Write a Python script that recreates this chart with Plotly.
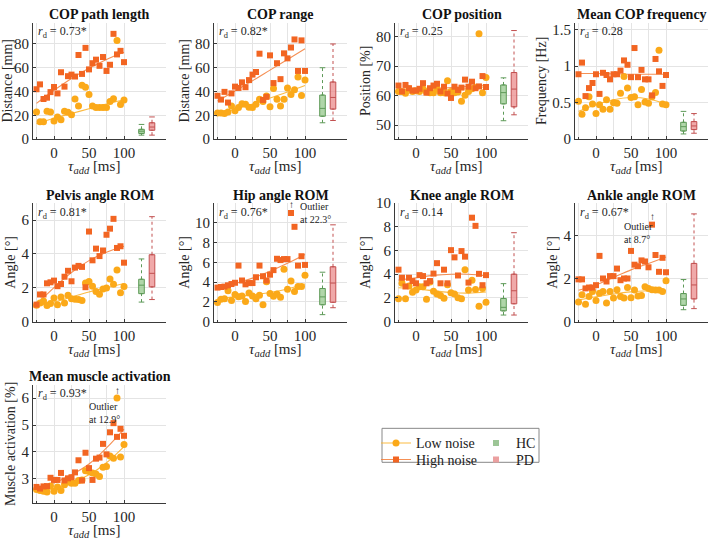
import plotly.graph_objects as go

# ---------------- data ----------------
TAU = [-25, -20, -15, -10, -5, 0, 5, 10, 15, 20, 25, 30, 35, 40, 45, 50, 55, 60, 65, 70, 75, 80, 85, 90, 95, 100]
FIT_TAU = [-25, 0, 25, 50, 75, 100]
BOX_POS = [125, 140]  # HC, PD

titles = ["COP path length", "COP range", "COP position", "Mean COP frequency",
          "Pelvis angle ROM", "Hip angle ROM", "Knee angle ROM", "Ankle angle ROM",
          "Mean muscle activation"]
ytitles = ["Distance [mm]", "Distance [mm]", "Position [%]", "Frequency [Hz]",
           "Angle [°]", "Angle [°]", "Angle [°]", "Angle [°]", "Muscle activation [%]"]
xtitle = "<i>τ<sub>add</sub></i> [ms]"
rd_labels = ["0.73*", "0.82*", "0.25", "0.28", "0.81*", "0.76*", "0.14", "0.67*", "0.93*"]

# COP path length
path_high = [41.9, 46.0, 33.7, 34.8, 39.5, 43.8, 38.4, 56.2, 44.1, 52.9, 54.2, 52.6, 70.7, 54.8, 76.7, 58.6, 63.8, 66.8, 61.6, 69.0, 57.3, 62.5, 88.5, 71.2, 74.2, 64.7]
path_low = [22.7, 14.5, 14.5, 23.3, 22.7, 15.1, 18.6, 16.2, 23.3, 22.5, 20.5, 33.7, 27.7, 45.2, 43.6, 37.5, 27.9, 26.6, 26.6, 26.6, 26.6, 31.5, 34.0, 83.0, 29.0, 32.9]
path_fit_high = [30, 41, 51, 59.5, 67, 73]
path_fit_low = [13, 17.5, 21.5, 25.5, 29.5, 33]
path_hc = [3.3, 4.7, 6.6, 8.2, 12.3]
path_pd = [3.3, 7.4, 10.1, 13.7, 18.6]

# COP range
range_high = [36.4, 33.2, 39.7, 30.7, 38.4, 44.1, 43.0, 47.7, 43.6, 49.6, 54.2, 56.4, 71.8, 32.9, 35.5, 70.4, 47.1, 63.8, 50.4, 72.1, 67.9, 77.0, 83.8, 57.3, 83.0, 57.3]
range_low = [21.9, 21.9, 21.4, 22.7, 27.9, 23.8, 26.6, 29.6, 29.3, 26.8, 26.6, 29.3, 33.4, 31.5, 36.2, 27.1, 42.5, 33.4, 27.9, 33.4, 43.0, 37.5, 41.4, 52.1, 36.7, 49.6]
range_fit_high = [32, 40.5, 49, 58, 67, 76]
range_fit_low = [21, 25, 29.5, 34.5, 39.5, 45]
range_hc = [13.7, 19.2, 25.8, 37.0, 60.0]
range_pd = [15.6, 25.2, 35.0, 48.0, 80.0]

# COP position
pos_high = [63.4, 61.4, 63.6, 62.5, 61.7, 61.7, 62.3, 64.2, 61.0, 62.5, 63.4, 64.0, 61.4, 63.0, 60.7, 59.2, 63.0, 61.9, 62.7, 65.4, 63.0, 64.7, 62.5, 63.1, 66.6, 62.9]
pos_low = [61.4, 61.4, 60.8, 62.3, 61.4, 61.6, 61.4, 62.3, 61.2, 61.0, 61.0, 62.3, 61.0, 61.0, 65.0, 61.4, 61.0, 61.2, 58.1, 60.1, 61.4, 62.3, 62.8, 80.9, 61.0, 66.1]
pos_fit_high = [62.0, 62.2, 62.4, 62.7, 63.1, 63.6]
pos_fit_low = [61.5, 61.6, 61.8, 62.0, 62.4, 63.0]
pos_hc = [51.5, 57.2, 61.0, 63.6, 66.0]
pos_pd = [53.5, 56.2, 62.2, 67.8, 82.0]

# Mean COP frequency
freq_high = [0.89, 1.05, 0.59, 0.70, 0.77, 0.89, 0.62, 0.91, 0.88, 0.82, 0.89, 0.89, 0.94, 1.08, 1.02, 0.85, 1.25, 0.85, 0.95, 0.82, 0.82, 0.60, 1.10, 0.93, 0.73, 0.88]
freq_low = [0.52, 0.34, 0.43, 0.58, 0.48, 0.35, 0.47, 0.41, 0.54, 0.41, 0.50, 0.49, 0.63, 0.86, 0.70, 0.57, 0.58, 0.47, 0.68, 0.51, 0.49, 0.58, 0.64, 1.22, 0.48, 0.47]
freq_fit_high = [0.90, 0.90, 0.895, 0.89, 0.89, 0.89]
freq_fit_low = [0.38, 0.47, 0.54, 0.57, 0.55, 0.48]
freq_hc = [0.07, 0.11, 0.17, 0.23, 0.38]
freq_pd = [0.08, 0.13, 0.18, 0.24, 0.35]

# Pelvis angle ROM
pelvis_high = [1.0, 1.6, 1.6, 2.26, 2.32, 2.42, 2.09, 2.22, 2.65, 3.0, 2.38, 3.19, 3.29, 3.23, 2.03, 5.32, 3.62, 4.31, 3.87, 4.2, 5.13, 5.49, 6.07, 4.35, 4.45, 3.48]
pelvis_low = [0.97, 1.10, 1.22, 0.95, 1.06, 1.39, 1.0, 1.45, 1.10, 1.55, 1.35, 1.32, 1.30, 1.24, 2.28, 2.36, 2.09, 1.78, 1.61, 1.93, 1.99, 2.51, 2.20, 3.04, 1.70, 2.07]
pelvis_fit_high = [1.0, 2.0, 2.9, 3.6, 4.1, 4.45]
pelvis_fit_low = [0.9, 1.15, 1.45, 1.75, 2.0, 2.25]
pelvis_hc = [1.15, 1.65, 2.15, 2.5, 3.7]
pelvis_pd = [1.3, 2.05, 2.85, 3.95, 6.2]

# Hip angle ROM
hip_high = [3.44, 3.5, 3.54, 3.67, 3.8, 3.93, 5.67, 4.16, 3.77, 3.9, 3.9, 4.49, 5.67, 4.59, 4.16, 4.75, 5.21, 6.36, 6.23, 6.33, 6.33, 11.0, 9.6, 5.67, 6.62, 5.74]
hip_low = [1.93, 2.26, 2.3, 3.11, 2.13, 2.75, 2.52, 2.59, 2.03, 2.89, 2.59, 2.3, 2.66, 1.70, 4.03, 2.85, 2.56, 2.79, 2.46, 5.31, 3.28, 4.1, 3.05, 3.54, 3.54, 4.69]
hip_fit_high = [3.4, 3.85, 4.4, 5.1, 5.9, 6.8]
hip_fit_low = [2.35, 2.5, 2.7, 2.95, 3.3, 3.8]
hip_hc = [0.7, 1.7, 2.5, 3.35, 5.0]
hip_pd = [1.4, 1.95, 3.9, 5.55, 9.8]

# Knee angle ROM
knee_high = [4.38, 3.7, 2.96, 3.7, 3.42, 3.23, 3.92, 3.84, 3.23, 3.42, 4.05, 4.93, 3.23, 4.38, 3.23, 6.03, 5.42, 3.89, 5.95, 5.48, 3.29, 8.77, 8.08, 4.03, 3.07, 3.92]
knee_low = [1.92, 3.23, 1.92, 3.01, 2.47, 2.66, 2.93, 2.93, 1.89, 3.34, 2.55, 2.33, 2.19, 1.97, 3.10, 2.44, 2.33, 2.0, 1.92, 4.38, 2.66, 3.48, 2.7, 1.29, 2.79, 1.64]
knee_fit_high = [3.5, 3.7, 3.9, 4.0, 4.0, 3.85]
knee_fit_low = [2.85, 2.75, 2.6, 2.45, 2.4, 2.5]
knee_hc = [0.55, 0.9, 1.2, 1.95, 3.2]
knee_pd = [0.55, 1.5, 2.6, 4.0, 7.5]

# Ankle angle ROM
ankle_high = [1.96, 1.96, 1.54, 1.58, 1.58, 1.69, 3.05, 2.0, 1.86, 2.11, 2.11, 2.46, 1.92, 2.0, 2.0, 3.28, 2.64, 2.57, 2.84, 2.79, 2.52, 4.5, 3.09, 2.31, 2.96, 2.29]
ankle_low = [0.91, 1.25, 0.8, 1.16, 1.40, 0.98, 1.31, 1.40, 0.86, 1.40, 1.09, 1.48, 1.16, 1.09, 1.58, 1.10, 1.46, 1.19, 1.21, 1.62, 1.54, 1.48, 1.46, 1.46, 1.40, 1.89]
ankle_fit_high = [1.45, 1.7, 2.05, 2.4, 2.7, 3.0]
ankle_fit_low = [1.0, 1.15, 1.28, 1.38, 1.43, 1.45]
ankle_hc = [0.55, 0.75, 1.05, 1.3, 1.95]
ankle_pd = [0.6, 1.05, 1.7, 2.7, 5.0]

# Mean muscle activation
muscle_high = [2.70, 2.64, 2.72, 2.73, 3.04, 2.96, 2.96, 3.22, 2.94, 3.02, 3.06, 3.24, 3.69, 2.94, 3.97, 3.40, 2.96, 3.75, 3.79, 4.30, 3.91, 4.73, 5.07, 4.56, 4.86, 4.60]
muscle_low = [2.60, 2.57, 2.54, 2.51, 2.73, 2.54, 2.70, 2.57, 2.78, 2.88, 2.84, 2.84, 2.94, 2.96, 3.30, 3.27, 3.22, 3.18, 3.09, 3.43, 3.46, 3.85, 3.77, 6.0, 3.81, 4.28]
muscle_fit_high = [2.65, 2.85, 3.15, 3.55, 4.15, 4.85]
muscle_fit_low = [2.55, 2.65, 2.85, 3.15, 3.6, 4.2]

y_ranges = [[0, 98], [0, 98], [45.3, 84.7], [0, 1.6], [0, 7], [0, 12], [0, 10], [0, 5.5], [2.1, 6.5]]
y_ticks = [[0, 20, 40, 60, 80], [0, 20, 40, 60, 80], [50, 60, 70, 80], [0, 0.5, 1, 1.5],
           [0, 2, 4, 6], [0, 2, 4, 6, 8, 10], [0, 2, 4, 6, 8, 10], [0, 2, 4], [3, 4, 5, 6]]
y_ticktext = [None, None, None, ["0", "0.5", "1", "1.5"], None, None, None, None, None]
x_ticks = [0, 50, 100]
x_minor = [-25, 25, 75]

high_series = [path_high, range_high, pos_high, freq_high, pelvis_high, hip_high, knee_high, ankle_high, muscle_high]
low_series = [path_low, range_low, pos_low, freq_low, pelvis_low, hip_low, knee_low, ankle_low, muscle_low]
fit_high = [path_fit_high, range_fit_high, pos_fit_high, freq_fit_high, pelvis_fit_high, hip_fit_high, knee_fit_high, ankle_fit_high, muscle_fit_high]
fit_low = [path_fit_low, range_fit_low, pos_fit_low, freq_fit_low, pelvis_fit_low, hip_fit_low, knee_fit_low, ankle_fit_low, muscle_fit_low]
hc_boxes = [path_hc, range_hc, pos_hc, freq_hc, pelvis_hc, hip_hc, knee_hc, ankle_hc, None]
pd_boxes = [path_pd, range_pd, pos_pd, freq_pd, pelvis_pd, hip_pd, knee_pd, ankle_pd, None]

# outliers: (panel, x, series, note)
outliers = [(5, 80, "high", "Outlier<br>at 22.3°"), (7, 80, "high", "Outlier<br>at 8.7°"),
            (8, 90, "low", "Outlier<br>at 12.9°")]

legend_names = ["Low noise", "High noise", "HC", "PD"]

# ---------------- styling / layout ----------------
W, H = 708, 547
COL_LEFT = [33, 214, 395, 575]
AX_W = 133
ROW_TOP = [15, 201, 388]
ROW_BOT = [135, 323, 510]
X_RANGE = [-30, 160]
FONT = "Liberation Serif"

C_HIGH = "#F26522"
C_LOW = "#FBA919"
C_HIGH_LINE = "rgba(243,125,55,0.85)"
C_LOW_LINE = "rgba(251,178,45,0.9)"
HC_FILL, HC_LINE, HC_MED = "rgba(150,200,140,0.75)", "#5E9A58", "#2F6A2B"
PD_FILL, PD_LINE, PD_MED = "rgba(235,140,140,0.75)", "#C25050", "#9A2020"
GRID = "#E4E4E4"
AXC = "#3a3a3a"


def px_x(p):
    return p / W


def px_y(p):
    return 1 - p / H


fig = go.Figure()
layout = dict(width=W, height=H, margin=dict(l=0, r=0, t=0, b=0),
              plot_bgcolor="white", paper_bgcolor="white",
              font=dict(family=FONT, size=14, color="#262626"),
              showlegend=True)
annotations = []

for i in range(9):
    r, c = divmod(i, 4)
    n = "" if i == 0 else str(i + 1)
    xa, ya = "x" + n, "y" + n
    left = COL_LEFT[c]
    top, bot = ROW_TOP[r], ROW_BOT[r]

    layout["xaxis" + n] = dict(
        domain=[px_x(left), min(1.0, px_x(left + AX_W))], range=X_RANGE, anchor=ya,
        tickmode="array", tickvals=x_ticks, showgrid=True, gridcolor=GRID, gridwidth=1,
        minor=dict(tickmode="array", tickvals=x_minor, showgrid=True, gridcolor=GRID,
                   ticks="inside", ticklen=2, tickcolor=AXC),
        zeroline=False, showline=True, linecolor=AXC, linewidth=1,
        ticks="inside", ticklen=3, tickcolor=AXC, tickfont=dict(size=15, family=FONT),
    )
    ydict = dict(
        domain=[px_y(bot), px_y(top)], range=y_ranges[i], anchor=xa,
        tickmode="array", tickvals=y_ticks[i], showgrid=True, gridcolor=GRID, gridwidth=1,
        zeroline=False, showline=True, linecolor=AXC, linewidth=1,
        ticks="inside", ticklen=3, tickcolor=AXC, tickfont=dict(size=15, family=FONT),
        title=dict(text=ytitles[i], font=dict(size=14, family=FONT), standoff=2),
    )
    if y_ticktext[i] is not None:
        ydict["ticktext"] = y_ticktext[i]
    layout["yaxis" + n] = ydict

    # fit lines
    fig.add_trace(go.Scatter(x=FIT_TAU, y=fit_high[i], mode="lines", xaxis=xa, yaxis=ya,
                             line=dict(color=C_HIGH_LINE, width=1.1, shape="spline"),
                             showlegend=False, hoverinfo="skip"))
    fig.add_trace(go.Scatter(x=FIT_TAU, y=fit_low[i], mode="lines", xaxis=xa, yaxis=ya,
                             line=dict(color=C_LOW_LINE, width=1.1, shape="spline"),
                             showlegend=False, hoverinfo="skip"))
    # data points
    fig.add_trace(go.Scatter(x=TAU, y=low_series[i], mode="markers", xaxis=xa, yaxis=ya,
                             marker=dict(symbol="circle", size=7, color=C_LOW), showlegend=False,
                             cliponaxis=False))
    fig.add_trace(go.Scatter(x=TAU, y=high_series[i], mode="markers", xaxis=xa, yaxis=ya,
                             marker=dict(symbol="square", size=6, color=C_HIGH), showlegend=False,
                             cliponaxis=False))

    # box plots
    for stats, pos, fill, lc, mc in ((hc_boxes[i], BOX_POS[0], HC_FILL, HC_LINE, HC_MED),
                                     (pd_boxes[i], BOX_POS[1], PD_FILL, PD_LINE, PD_MED)):
        if stats is None:
            continue
        lo, q1, med, q3, hi = stats
        fig.add_trace(go.Scatter(x=[pos, pos, None, pos, pos], y=[lo, q1, None, q3, hi], mode="lines",
                                 xaxis=xa, yaxis=ya, line=dict(color=lc, width=1, dash="dot"),
                                 showlegend=False, hoverinfo="skip"))
        fig.add_trace(go.Scatter(x=[pos, pos], y=[lo, hi], mode="markers", xaxis=xa, yaxis=ya,
                                 marker=dict(symbol="line-ew-open", size=4, color=lc,
                                             line=dict(color=lc, width=1)),
                                 showlegend=False, hoverinfo="skip"))
        fig.add_trace(go.Box(x=[pos], q1=[q1], median=[med], q3=[q3], lowerfence=[q1], upperfence=[q3],
                             width=8, xaxis=xa, yaxis=ya, fillcolor=fill,
                             line=dict(color=lc, width=1), showlegend=False, boxpoints=False,
                             hoverinfo="skip"))

    # subplot title
    annotations.append(dict(text="<b>" + titles[i] + "</b>", xref="paper", yref="paper",
                            x=px_x(left + AX_W / 2), y=px_y(top - 8), xanchor="center", yanchor="middle",
                            showarrow=False, font=dict(size=14, family=FONT, color="#111111")))
    # x-axis title
    annotations.append(dict(text=xtitle, xref="paper", yref="paper",
                            x=px_x(left + AX_W / 2 - 6), y=px_y(bot + 29), xanchor="center", yanchor="middle",
                            showarrow=False, font=dict(size=15, family=FONT, color="#262626")))
    # r_d
    annotations.append(dict(text="<i>r</i><sub>d</sub> = " + rd_labels[i], xref="paper", yref="paper",
                            x=px_x(left + 3), y=px_y(top + 10), xanchor="left", yanchor="middle",
                            showarrow=False, font=dict(size=12, family=FONT, color="#262626")))

# outlier notes
for (pi, xo, which, note) in outliers:
    n = "" if pi == 0 else str(pi + 1)
    xa, ya = "x" + n, "y" + n
    series = high_series[pi] if which == "high" else low_series[pi]
    yv = series[TAU.index(xo)]
    annotations.append(dict(text="↑", xref=xa, yref=ya, x=xo, y=yv, yshift=8, showarrow=False,
                            font=dict(size=10, family=FONT, color="#222222")))
    if pi == 5:
        annotations.append(dict(text=note, xref=xa, yref=ya, x=xo, y=yv, xshift=7, yshift=0,
                                xanchor="left", yanchor="middle", align="left", showarrow=False,
                                font=dict(size=10, family=FONT, color="#222222")))
    else:
        annotations.append(dict(text=note, xref=xa, yref=ya, x=xo, y=yv, xshift=-30,
                                yshift=6 if pi == 7 else -1,
                                xanchor="left", yanchor="top", align="left", showarrow=False,
                                font=dict(size=10, family=FONT, color="#222222")))

# legend entries (legend-only traces), one small legend per entry for exact placement
fig.add_trace(go.Scatter(x=[None], y=[None], mode="lines+markers", name=legend_names[0],
                         line=dict(color=C_LOW_LINE, width=1.1), marker=dict(symbol="circle", size=7, color=C_LOW),
                         legend="legend"))
fig.add_trace(go.Scatter(x=[None], y=[None], mode="lines+markers", name=legend_names[1],
                         line=dict(color=C_HIGH_LINE, width=1.1), marker=dict(symbol="square", size=6, color=C_HIGH),
                         legend="legend2"))
fig.add_trace(go.Scatter(x=[None], y=[None], mode="markers", name=legend_names[2],
                         marker=dict(symbol="square", size=6, color="#9CC596"), legend="legend3"))
fig.add_trace(go.Scatter(x=[None], y=[None], mode="markers", name=legend_names[3],
                         marker=dict(symbol="square", size=6, color="#EBA0A0"), legend="legend4"))

leg_common = dict(yanchor="top", xanchor="left", bgcolor="rgba(0,0,0,0)", borderwidth=0,
                  font=dict(size=14, family=FONT, color="#222222"), tracegroupgap=0, itemwidth=30)
layout["legend"] = dict(x=px_x(376), y=px_y(432), **leg_common)
layout["legend2"] = dict(x=px_x(376), y=px_y(449), **leg_common)
layout["legend3"] = dict(x=px_x(476), y=px_y(432), **leg_common)
layout["legend4"] = dict(x=px_x(476), y=px_y(449), **leg_common)
layout["shapes"] = [dict(type="rect", xref="paper", yref="paper", x0=px_x(382), x1=px_x(539),
                         y0=px_y(468), y1=px_y(433), line=dict(color="#888888", width=1))]
layout["annotations"] = annotations

fig.update_layout(**layout)
fig.write_html("out.html")
